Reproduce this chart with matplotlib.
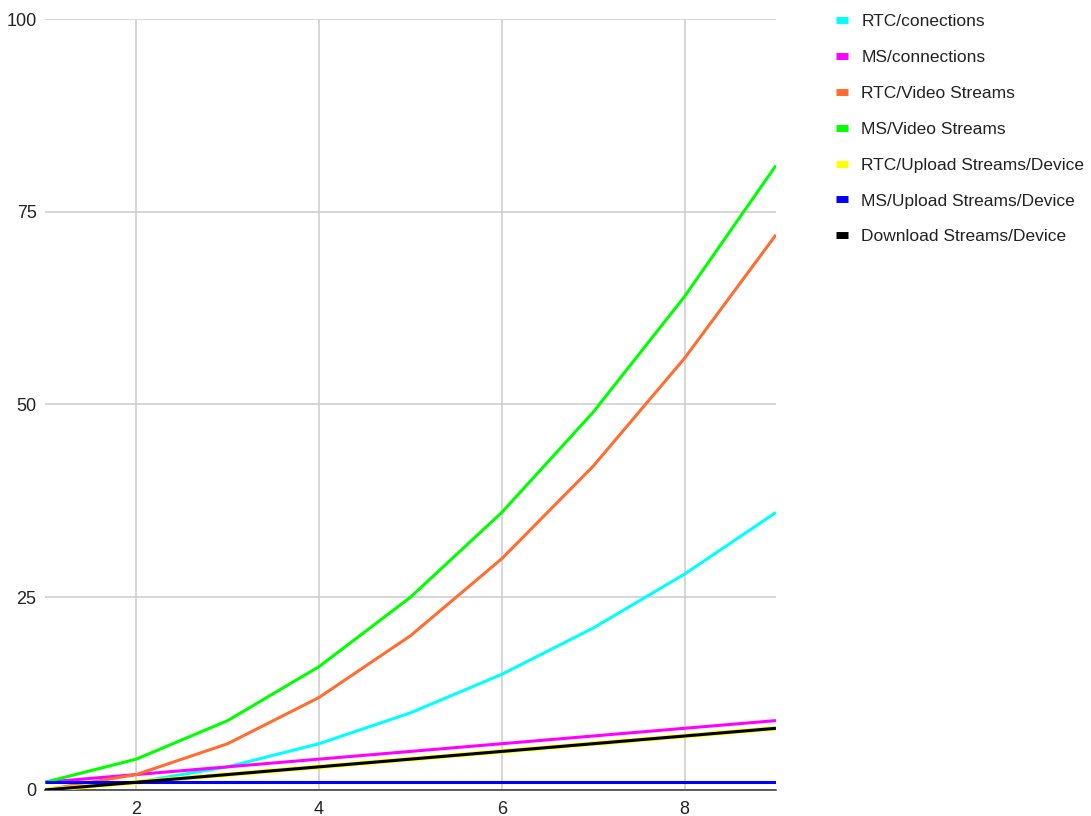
import matplotlib.pyplot as plt
from matplotlib.lines import Line2D

plt.rcParams['font.family'] = ['Liberation Sans', 'DejaVu Sans']

# participants in the call
users = [1, 2, 3, 4, 5, 6, 7, 8, 9]

rtc_connections = [0, 1, 3, 6, 10, 15, 21, 28, 36]
ms_connections = [1, 2, 3, 4, 5, 6, 7, 8, 9]
rtc_video = [0, 2, 6, 12, 20, 30, 42, 56, 72]
ms_video = [1, 4, 9, 16, 25, 36, 49, 64, 81]
rtc_upload = [0, 1, 2, 3, 4, 5, 6, 7, 8]
ms_upload = [1, 1, 1, 1, 1, 1, 1, 1, 1]
download = [0, 1, 2, 3, 4, 5, 6, 7, 8]

names = ["RTC/conections", "MS/connections", "RTC/Video Streams", "MS/Video Streams",
         "RTC/Upload Streams/Device", "MS/Upload Streams/Device", "Download Streams/Device"]
colors = ["#00ffff", "#ff00ff", "#ff6d31", "#00ff00", "#ffff00", "#0000ff", "#000000"]
series = [rtc_connections, ms_connections, rtc_video, ms_video, rtc_upload, ms_upload, download]

fig = plt.figure(figsize=(10.91, 8.16), dpi=100)
ax = fig.add_axes([0.0412, 0.0319, 0.670, 0.9448])

for i, (vals, c) in enumerate(zip(series, colors)):
    lw = 2.2
    if c == "#ffff00":
        lw = 3.4  # sits under the black line, a bit wider so it peeks out
    ax.plot(users, vals, color=c, lw=lw, zorder=3 + i, solid_capstyle='butt')

ax.set_xlim(1, 9)
ax.set_ylim(0, 100)
ax.set_xticks([2, 4, 6, 8])
ax.set_yticks([0, 25, 50, 75, 100])
ax.grid(True, color="#cccccc", lw=1.1)
ax.set_axisbelow(True)
for s in ["top", "right", "left"]:
    ax.spines[s].set_visible(False)
ax.spines["bottom"].set_color("#333333")
ax.spines["bottom"].set_linewidth(1.1)
ax.spines["bottom"].set_zorder(2)
ax.tick_params(length=0, labelsize=13, pad=8, colors="#222222")
ax.tick_params(axis='y', pad=6)

handles = [Line2D([0], [0], color=c, lw=5, solid_capstyle='butt') for c in colors]
fig.legend(handles, names, loc="upper left", bbox_to_anchor=(0.760, 0.991),
           frameon=False, fontsize=12.5, handlelength=0.7, labelspacing=1.19,
           handletextpad=0.75, borderaxespad=0, labelcolor="#222222")

fig.savefig("out.png", dpi=100)
